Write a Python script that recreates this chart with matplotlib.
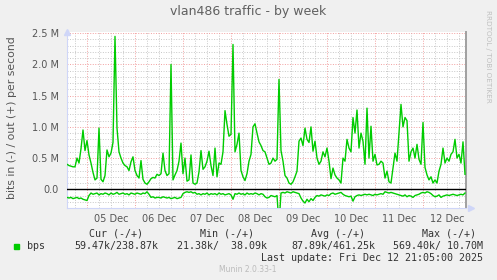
import numpy as np
import pandas as pd
import matplotlib
matplotlib.use('Agg')
import matplotlib.pyplot as plt
import matplotlib.dates as mdates

# hourly samples, Mbit/s, starting Dec 4 14:00
start = '2025-12-04 14:00'
out_mbps = [
    0.40, 0.38, 0.37, 0.36, 0.36, 0.50, 0.42, 0.65, 0.95, 0.62,
    0.78, 0.55, 0.42, 0.27, 0.15, 0.18, 0.98, 0.16, 0.12, 0.22,
    0.63, 0.52, 0.58, 0.75, 2.45, 0.98, 0.60, 0.50, 0.42, 0.38,
    0.36, 0.30, 0.44, 0.52, 0.30, 0.22, 0.18, 0.46, 0.16, 0.10,
    0.08, 0.12, 0.17, 0.19, 0.18, 0.24, 0.22, 0.25, 0.58, 0.30,
    0.22, 0.25, 2.00, 0.15, 0.23, 0.30, 0.45, 0.74, 0.25, 0.50,
    0.13, 0.15, 0.55, 0.10, 0.08, 0.10, 0.28, 0.62, 0.32, 0.36,
    0.45, 0.61, 0.38, 0.22, 0.66, 0.20, 0.42, 0.40, 0.60, 1.26,
    1.04, 0.85, 0.88, 2.32, 0.60, 0.72, 0.90, 0.30, 0.20, 0.14,
    0.25, 0.45, 0.56, 1.00, 1.05, 0.90, 0.76, 0.70, 0.62, 0.60,
    0.50, 0.40, 0.42, 0.50, 0.45, 0.48, 1.76, 0.62, 0.45, 0.22,
    0.18, 0.10, 0.08, 0.12, 0.20, 0.29, 0.77, 0.82, 0.70, 0.98,
    0.80, 0.75, 1.00, 0.61, 0.77, 0.50, 0.40, 0.45, 0.60, 0.52,
    0.66, 0.45, 0.17, 0.34, 0.23, 0.18, 0.15, 0.10, 0.50, 0.45,
    0.80, 0.66, 0.60, 1.15, 0.90, 1.27, 0.66, 0.90, 0.77, 0.40,
    1.30, 0.50, 1.01, 0.45, 0.56, 0.39, 0.40, 0.45, 0.42, 0.18,
    0.29, 0.12, 0.10, 0.34, 0.58, 0.45, 0.90, 1.36, 1.00, 1.15,
    1.10, 0.45, 0.60, 0.66, 0.50, 0.72, 0.48, 0.40, 1.07, 0.35,
    0.23, 0.15, 0.20, 0.10, 0.15, 0.10, 0.29, 0.40, 0.66, 0.42,
    0.50, 0.45, 0.56, 0.60, 0.80, 0.50, 0.56, 0.42, 0.76, 0.24,
]
in_mbps = [
    -0.13, -0.14, -0.13, -0.15, -0.14, -0.13, -0.15, -0.14, -0.16, -0.17,
    -0.18, -0.10,
    -0.06, -0.08, -0.07, -0.06, -0.09, -0.07, -0.08, -0.06, -0.07, -0.09,
    -0.06, -0.08, -0.07, -0.05, -0.08, -0.07, -0.06, -0.08, -0.07, -0.09,
    -0.06, -0.07, -0.08, -0.06, -0.07, -0.08, -0.06, -0.07,
    -0.04, -0.08,
    -0.13, -0.12, -0.14, -0.13, -0.13, -0.14, -0.12, -0.13, -0.14, -0.13,
    -0.15, -0.14, -0.13, -0.15, -0.14, -0.13,
    -0.07, -0.05, -0.04, -0.05, -0.04, -0.06, -0.05,
    -0.08, -0.07, -0.09, -0.07, -0.08, -0.06, -0.09, -0.07, -0.08, -0.07,
    -0.09, -0.06, -0.08, -0.07, -0.09, -0.08, -0.07, -0.09,
    -0.16,
    -0.07, -0.08, -0.06, -0.08, -0.07, -0.09, -0.06, -0.08, -0.07, -0.08,
    -0.06, -0.07, -0.09, -0.07, -0.08, -0.12,
    -0.14, -0.13, -0.10, -0.11, -0.12, -0.10,
    -0.57,
    -0.06, -0.05, -0.06, -0.04, -0.05, -0.06, -0.04, -0.05, -0.06, -0.07,
    -0.14, -0.19, -0.22, -0.16, -0.20, -0.15, -0.18, -0.13,
    -0.10, -0.11, -0.09, -0.10, -0.11, -0.09, -0.10,
    -0.07, -0.06, -0.08, -0.07, -0.06, -0.05, -0.08,
    -0.10, -0.11, -0.12, -0.11, -0.19, -0.12, -0.10, -0.09, -0.10, -0.09, -0.08,
    -0.09, -0.08, -0.09, -0.10, -0.08, -0.09, -0.08, -0.07, -0.08,
    -0.04, -0.05, -0.06, -0.05, -0.06, -0.07, -0.08, -0.09,
    -0.10, -0.11, -0.09, -0.12, -0.10, -0.11, -0.13, -0.10, -0.09, -0.08,
    -0.06, -0.05, -0.06, -0.04, -0.05,
    -0.07, -0.10, -0.12, -0.11, -0.09,
    -0.13, -0.11, -0.10, -0.09, -0.10, -0.09, -0.08, -0.09, -0.10, -0.09,
    -0.08, -0.09, -0.06,
]
day_labels = ['05 Dec', '06 Dec', '07 Dec', '08 Dec', '09 Dec', '10 Dec', '11 Dec', '12 Dec']
ytick_vals = [0.0, 0.5, 1.0, 1.5, 2.0, 2.5]
ytick_labels = ['0.0', '0.5 M', '1.0 M', '1.5 M', '2.0 M', '2.5 M']
legend_cols = ['Cur (-/+)', 'Min (-/+)', 'Avg (-/+)', 'Max (-/+)']
legend_vals = ['59.47k/238.87k', '21.38k/  38.09k', '87.89k/461.25k', '569.40k/ 10.70M']

times = pd.date_range(start, periods=len(out_mbps), freq='h')
t0 = pd.Timestamp('2025-12-04 14:00')
t1 = pd.Timestamp('2025-12-12 21:30')

GREEN = '#00CC00'
BG = '#F0F0F0'
TXT = '#555555'

fig = plt.figure(figsize=(4.97, 2.80), dpi=100, facecolor=BG)
ax = fig.add_axes([67 / 497, 72 / 280, 399 / 497, 176 / 280], facecolor='white')
ax.set_xlim(t0, t1)
ax.set_ylim(-0.30, 2.52)

# grid
minor_dots = (0, (1, 1.6))
for h in pd.date_range('2025-12-04 18:00', t1, freq='6h'):
    if h.hour == 0:
        ax.axvline(h, color='#F2A0A0', lw=0.7, ls=minor_dots, zorder=1)
    else:
        ax.axvline(h, color='#C8C8C8', lw=0.7, ls=minor_dots, zorder=1)
for v in np.arange(-0.2, 2.55, 0.1):
    if abs(v * 2 - round(v * 2)) < 1e-6:
        ax.axhline(v, color='#F2A0A0', lw=0.7, ls=minor_dots, zorder=1)
    else:
        ax.axhline(v, color='#C8C8C8', lw=0.7, ls=minor_dots, zorder=1)

ax.plot(times, out_mbps, color=GREEN, lw=1.0, zorder=3)
ax.plot(times, in_mbps, color=GREEN, lw=1.0, zorder=3)
ax.axhline(0, color='black', lw=1.0, zorder=4)

noon = pd.date_range('2025-12-05 12:00', periods=len(day_labels), freq='D')
ax.set_xticks(noon)
ax.set_xticklabels(day_labels)
ax.set_yticks(ytick_vals)
ax.set_yticklabels(ytick_labels)
ax.tick_params(axis='both', length=0, labelsize=7, colors=TXT)
ax.tick_params(axis='x', pad=4)
ax.tick_params(axis='y', pad=6)

ax.spines['top'].set_visible(False)
ax.spines['left'].set_color('#CFD6F8')
ax.spines['bottom'].set_color('#CFD6F8')
ax.spines['right'].set_color('#A0A0A0')
ax.spines['right'].set_linewidth(1.4)
ax.plot([0], [1.0], marker='^', color='#CFD6F8', ms=4, transform=ax.transAxes, clip_on=False)
ax.plot([1.012], [0], marker='>', color='#CFD6F8', ms=4, transform=ax.transAxes, clip_on=False)

fig.text(248 / 497, 1 - 11 / 280, 'vlan486 traffic - by week', ha='center', va='center',
         fontsize=9, color='#606060')
fig.text(12 / 497, 1 - 118 / 280, 'bits in (-) / out (+) per second', rotation=90,
         ha='center', va='center', fontsize=7.8, color=TXT)
fig.text(488 / 497, 1 - 56 / 280, 'RRDTOOL / TOBI OETIKER', rotation=-90,
         ha='center', va='center', fontsize=5.2, color='#C0C0C0')

mono = 'DejaVu Sans Mono'
col_right = [143, 254, 365, 476]
val_right = [158, 267, 375, 483]
for c, x in zip(legend_cols, col_right):
    fig.text(x / 497, 1 - 234 / 280, c, ha='right', va='center', fontsize=7.2,
             family=mono, color='#333333')
for v, x in zip(legend_vals, val_right):
    fig.text(x / 497, 1 - 246 / 280, v, ha='right', va='center', fontsize=7.2,
             family=mono, color='#333333')
fig.patches.append(plt.Rectangle((14 / 497, 1 - 248.5 / 280), 5 / 497, 5 / 280,
                                 transform=fig.transFigure, color=GREEN))
fig.text(27 / 497, 1 - 246 / 280, 'bps', ha='left', va='center', fontsize=7.2,
         family=mono, color='#333333')
fig.text(483 / 497, 1 - 258 / 280, 'Last update: Fri Dec 12 21:05:00 2025', ha='right',
         va='center', fontsize=7.2, family=mono, color='#333333')
fig.text(248 / 497, 1 - 269 / 280, 'Munin 2.0.33-1', ha='center', va='center',
         fontsize=5.5, color='#BBBBBB')

fig.savefig('out.png', dpi=100, facecolor=BG)
